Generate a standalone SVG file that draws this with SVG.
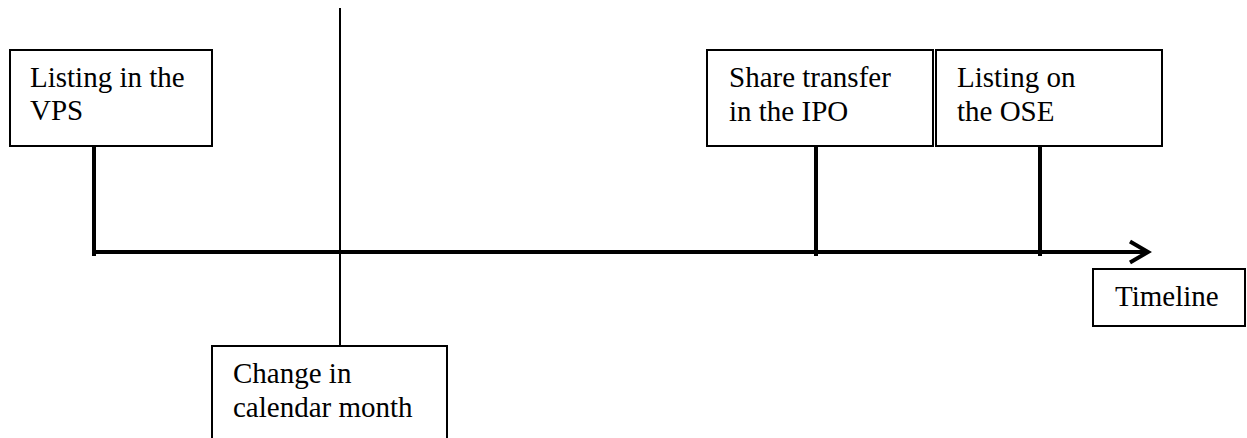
<svg xmlns="http://www.w3.org/2000/svg" width="1247" height="438" viewBox="0 0 1247 438">
<style>
.box{fill:#fff;stroke:#000;stroke-width:2}
.t{font-family:"Liberation Serif","Times New Roman",serif;font-size:29px;fill:#000}
.thick{stroke:#000;stroke-width:4;fill:none}
.thin{stroke:#000;stroke-width:2;fill:none}
</style>
<g id="connectors">
<line class="thin" x1="340" y1="8" x2="340" y2="346"/>
<line class="thick" x1="94" y1="146" x2="94" y2="256"/>
<line class="thick" x1="816" y1="146" x2="816" y2="256"/>
<line class="thick" x1="1040" y1="146" x2="1040" y2="256"/>
<line class="thick" x1="92" y1="252" x2="1147" y2="252"/>
<polyline class="thick" points="1130,241.5 1148,252 1130,262.5"/>
</g>
<g id="vps">
<rect class="box" x="10" y="50" width="202" height="96"/>
<text class="t" x="30" y="87">Listing in the</text>
<text class="t" x="30" y="120">VPS</text>
</g>
<g id="ipo">
<rect class="box" x="707" y="50" width="226" height="96"/>
<text class="t" x="729" y="87">Share transfer</text>
<text class="t" x="729" y="121">in the IPO</text>
</g>
<g id="ose">
<rect class="box" x="936" y="50" width="226" height="96"/>
<text class="t" x="957" y="87">Listing on</text>
<text class="t" x="957" y="121">the OSE</text>
</g>
<g id="month">
<rect class="box" x="212" y="346" width="235" height="110"/>
<text class="t" x="233" y="383">Change in</text>
<text class="t" x="233" y="417">calendar month</text>
</g>
<g id="timeline">
<rect class="box" x="1093" y="269" width="152" height="57"/>
<text class="t" x="1115" y="306">Timeline</text>
</g>
</svg>
